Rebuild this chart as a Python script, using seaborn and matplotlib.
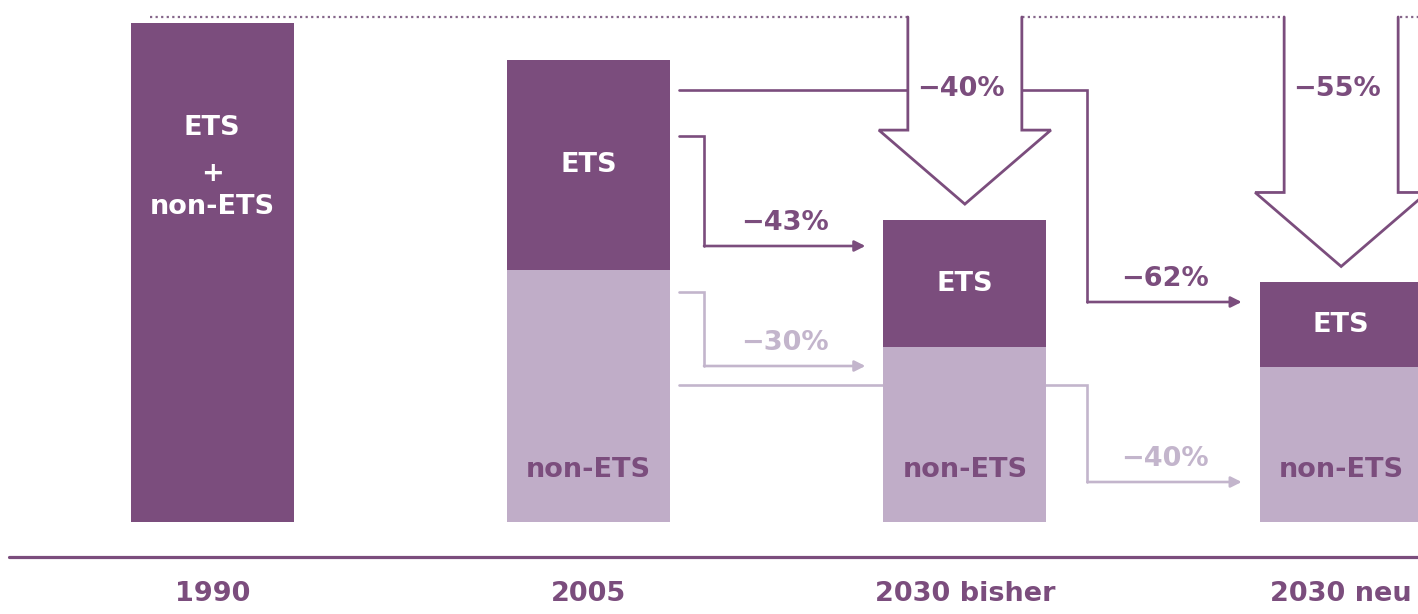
import numpy as np
import matplotlib.pyplot as plt
import seaborn as sns
from matplotlib.patches import Polygon

sns.set_style('white')
plt.rcParams['font.family'] = ['DejaVu Sans']

# emissions, 1990 = 100
years = ['1990', '2005', '2030 bisher', '2030 neu']
ets = [np.nan, 42.0, 25.5, 17.0]
non_ets = [np.nan, 50.5, 35.0, 31.0]
total_1990 = 100.0
totals = [total_1990] + [e + n for e, n in zip(ets[1:], non_ets[1:])]

# sector reductions vs 2005 (target index, sector, label)
sector_cuts = [(2, 'ets', '−43%'), (2, 'non', '−30%'),
               (3, 'ets', '−62%'), (3, 'non', '−40%')]
# overall reductions vs 1990
total_cuts = [(2, '−40%'), (3, '−55%')]

dark = '#7b4d7d'
light = '#c0adc8'
light_line = '#c3b5cc'
fs = 19.5

W, H = 1418, 614
fig = plt.figure(figsize=(W / 100, H / 100), dpi=100)
ax = fig.add_axes([0, 0, 1, 1])

# pixel scales of the data space
sx, x0 = 376.3, 212.25
sy, y0 = 4.99, 522
px = lambda n: n / sx
py = lambda n: n / sy

bw = 0.433
sns.barplot(x=years, y=totals, order=years, color=dark, width=bw,
            saturation=1, linewidth=0, ax=ax, zorder=2)
sns.barplot(x=years, y=non_ets, order=years, color=light, width=bw,
            saturation=1, linewidth=0, ax=ax, zorder=2)
ax.axis('off')
ax.set_xlim(-x0 / sx, (W - x0) / sx)
ax.set_ylim((y0 - H) / sy, y0 / sy)

# baseline and category labels
ax.axhline(py(-35), xmin=9 / W, xmax=1, color=dark, lw=2.3, zorder=2)
for i, yr in enumerate(years):
    ax.text(i, py(-72), yr, ha='center', va='center', fontsize=fs,
            fontweight='bold', color=dark)

# bar labels
for txt, off in [('ETS', 105), ('+', 151), ('non-ETS', 184)]:
    ax.text(0, total_1990 - py(off), txt, ha='center', va='center',
            fontsize=fs, fontweight='bold', color='white', zorder=5)
for i in range(1, 4):
    ax.text(i, non_ets[i] + ets[i] / 2, 'ETS', ha='center', va='center',
            fontsize=fs, fontweight='bold', color='white', zorder=5)
    ax.text(i, py(52), 'non-ETS', ha='center', va='center',
            fontsize=fs, fontweight='bold', color=dark, zorder=5)

# sector connectors from 2005
levels = {
    (2, 'ets'): (py(386), py(276), 34),
    (2, 'non'): (py(230), py(156), 34),
    (3, 'ets'): (py(432), py(220), 41),
    (3, 'non'): (py(137), py(40), 41),
}
for tgt, sec, lab in sector_cuts:
    ya, yb, jog = levels[(tgt, sec)]
    col = dark if sec == 'ets' else light_line
    xs = 1 + bw / 2 + px(9)
    xc = (tgt - 1) + bw / 2 + px(jog)
    xe = tgt - bw / 2 - px(18)
    ax.plot([xs, xc, xc], [ya, ya, yb], color=col, lw=1.9, zorder=1,
            solid_joinstyle='miter')
    ax.annotate('', xy=(xe, yb), xytext=(xc, yb), zorder=1,
                arrowprops=dict(arrowstyle='-|>', color=col, lw=1.9,
                                mutation_scale=16, shrinkA=0, shrinkB=0))
    ax.text((xc + xe) / 2, yb + py(23), lab, ha='center', va='center',
            fontsize=fs, fontweight='bold', color=col, zorder=5)

# dotted 1990 level
top = total_1990 + py(6)
ax.plot([-bw / 2 + px(19), (W - x0) / sx], [top, top], color='#85668a',
        lw=1.6, ls=(0, (1, 1.5)), zorder=1)

# big hollow arrows down to the 2030 totals
for tgt, lab in total_cuts:
    tip = totals[tgt] + py(16)
    sb = tip + py(74)
    hs, hh = px(57), px(86)
    pts = [(tgt - hs, top), (tgt - hs, sb), (tgt - hh, sb), (tgt, tip),
           (tgt + hh, sb), (tgt + hs, sb), (tgt + hs, top)]
    fill = pts + [(tgt + hs, top + py(4)), (tgt - hs, top + py(4))]
    ax.add_patch(Polygon(fill, closed=True, fc='white', ec='none', zorder=3))
    ax.plot(*zip(*pts), color=dark, lw=2.0, zorder=4, solid_joinstyle='miter')
    ax.text(tgt - px(4), py(433), lab, ha='center', va='center',
            fontsize=fs, fontweight='bold', color=dark, zorder=5)

fig.savefig('out.png', dpi=100)
